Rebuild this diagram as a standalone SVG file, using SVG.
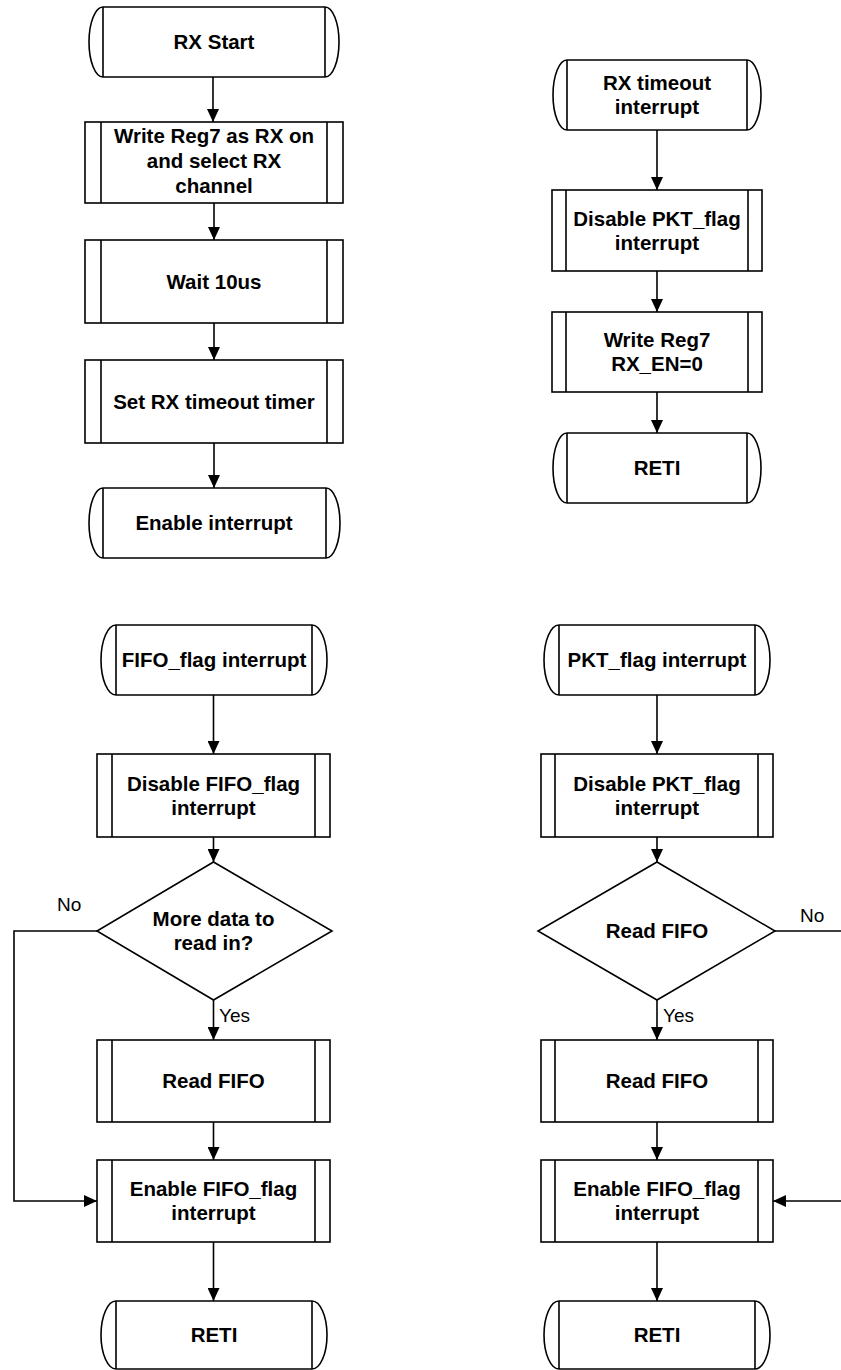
<svg xmlns="http://www.w3.org/2000/svg" width="841" height="1370" viewBox="0 0 841 1370">
<style>
.s{fill:#fff;stroke:#000;stroke-width:1.6}
.l{fill:none;stroke:#000;stroke-width:1.6}
.t{font-family:"Liberation Sans",Arial,sans-serif;font-weight:bold;font-size:20.5px;text-anchor:middle;fill:#000}
.lb{font-family:"Liberation Sans",Arial,sans-serif;font-size:19px;fill:#000}
.c{fill:none;stroke:#000;stroke-width:1.6;marker-end:url(#ah)}
</style>
<defs>
<marker id="ah" markerUnits="userSpaceOnUse" markerWidth="13" markerHeight="12" refX="13" refY="6" orient="auto">
<path d="M0,0 L13,6 L0,12 Z" fill="#000"/>
</marker>
</defs>
<rect width="841" height="1370" fill="#fff"/>

<g id="connectors">
<path class="c" d="M213,77 V122"/>
<path class="c" d="M214,203 V240"/>
<path class="c" d="M214,323 V360"/>
<path class="c" d="M214,443 V488"/>
<path class="c" d="M657,130 V190"/>
<path class="c" d="M657,271 V312"/>
<path class="c" d="M657,392 V433"/>
<path class="c" d="M213.5,695 V754"/>
<path class="c" d="M213.5,837 V862"/>
<path class="c" d="M213.5,1000 V1040"/>
<path class="c" d="M213.5,1122 V1160"/>
<path class="c" d="M213.5,1242 V1301"/>
<path class="c" d="M97,931 H14 V1201 H97"/>
<path class="c" d="M657,695 V754"/>
<path class="c" d="M657,837 V862"/>
<path class="c" d="M657,1000 V1040"/>
<path class="c" d="M657,1122 V1160"/>
<path class="c" d="M657,1242 V1301"/>
<path class="c" d="M775,931 H846 V1201 H773"/>
<text class="lb" x="57" y="911">No</text>
<text class="lb" x="219" y="1022">Yes</text>
<text class="lb" x="800" y="922">No</text>
<text class="lb" x="663" y="1022">Yes</text>
</g>

<g id="rx_start">
<path class="s" d="M103,7 H325 A14,35 0 0 1 325,77 H103 A14,35 0 0 1 103,7 Z"/>
<path class="l" d="M103,7 V77 M325,7 V77"/>
<text class="t" x="214" y="49">RX Start</text>
</g>
<g id="write_reg7_rx_on">
<rect class="s" x="85" y="122" width="258" height="81"/>
<path class="l" d="M101,122 V203 M327,122 V203"/>
<text class="t" x="214" y="143">Write Reg7 as RX on</text>
<text class="t" x="214" y="168">and select RX</text>
<text class="t" x="214" y="193">channel</text>
</g>
<g id="wait_10us">
<rect class="s" x="85" y="240" width="258" height="83"/>
<path class="l" d="M101,240 V323 M327,240 V323"/>
<text class="t" x="214" y="288.5">Wait 10us</text>
</g>
<g id="set_rx_timeout">
<rect class="s" x="85" y="360" width="258" height="83"/>
<path class="l" d="M101,360 V443 M327,360 V443"/>
<text class="t" x="214" y="408.5">Set RX timeout timer</text>
</g>
<g id="enable_interrupt">
<path class="s" d="M103,488 H326 A14,35 0 0 1 326,558 H103 A14,35 0 0 1 103,488 Z"/>
<path class="l" d="M103,488 V558 M326,488 V558"/>
<text class="t" x="214" y="530">Enable interrupt</text>
</g>

<g id="rx_timeout_interrupt">
<path class="s" d="M567,60 H747 A14,35 0 0 1 747,130 H567 A14,35 0 0 1 567,60 Z"/>
<path class="l" d="M567,60 V130 M747,60 V130"/>
<text class="t" x="657" y="90">RX timeout</text>
<text class="t" x="657" y="114">interrupt</text>
</g>
<g id="disable_pkt_flag_1">
<rect class="s" x="552" y="190" width="210" height="81"/>
<path class="l" d="M566,190 V271 M748,190 V271"/>
<text class="t" x="657" y="225.5">Disable PKT_flag</text>
<text class="t" x="657" y="249.5">interrupt</text>
</g>
<g id="write_reg7_rx_en0">
<rect class="s" x="552" y="312" width="210" height="80"/>
<path class="l" d="M566,312 V392 M748,312 V392"/>
<text class="t" x="657" y="347">Write Reg7</text>
<text class="t" x="657" y="371">RX_EN=0</text>
</g>
<g id="reti_1">
<path class="s" d="M567,433 H747 A14,35 0 0 1 747,503 H567 A14,35 0 0 1 567,433 Z"/>
<path class="l" d="M567,433 V503 M747,433 V503"/>
<text class="t" x="657" y="475">RETI</text>
</g>

<g id="fifo_flag_interrupt">
<path class="s" d="M116,625 H312 A15,35 0 0 1 312,695 H116 A15,35 0 0 1 116,625 Z"/>
<path class="l" d="M116,625 V695 M312,625 V695"/>
<text class="t" x="214" y="667">FIFO_flag interrupt</text>
</g>
<g id="disable_fifo_flag">
<rect class="s" x="97" y="754" width="233" height="83"/>
<path class="l" d="M112,754 V837 M315,754 V837"/>
<text class="t" x="213.5" y="790.5">Disable FIFO_flag</text>
<text class="t" x="213.5" y="814.5">interrupt</text>
</g>
<g id="more_data">
<path class="s" d="M213.5,862 L332,931 L213.5,1000 L97,931 Z"/>
<text class="t" x="213.5" y="926">More data to</text>
<text class="t" x="213.5" y="950">read in?</text>
</g>
<g id="read_fifo_1">
<rect class="s" x="97" y="1040" width="233" height="82"/>
<path class="l" d="M112,1040 V1122 M315,1040 V1122"/>
<text class="t" x="213.5" y="1088">Read FIFO</text>
</g>
<g id="enable_fifo_flag_1">
<rect class="s" x="97" y="1160" width="233" height="82"/>
<path class="l" d="M112,1160 V1242 M315,1160 V1242"/>
<text class="t" x="213.5" y="1196">Enable FIFO_flag</text>
<text class="t" x="213.5" y="1220">interrupt</text>
</g>
<g id="reti_2">
<path class="s" d="M116,1301 H312 A15,34 0 0 1 312,1369 H116 A15,34 0 0 1 116,1301 Z"/>
<path class="l" d="M116,1301 V1369 M312,1301 V1369"/>
<text class="t" x="214" y="1342">RETI</text>
</g>

<g id="pkt_flag_interrupt">
<path class="s" d="M559,625 H755 A15,35 0 0 1 755,695 H559 A15,35 0 0 1 559,625 Z"/>
<path class="l" d="M559,625 V695 M755,625 V695"/>
<text class="t" x="657" y="667">PKT_flag interrupt</text>
</g>
<g id="disable_pkt_flag_2">
<rect class="s" x="541" y="754" width="232" height="83"/>
<path class="l" d="M555,754 V837 M758,754 V837"/>
<text class="t" x="657" y="790.5">Disable PKT_flag</text>
<text class="t" x="657" y="814.5">interrupt</text>
</g>
<g id="read_fifo_decision">
<path class="s" d="M657,862 L775,931 L657,1000 L538,931 Z"/>
<text class="t" x="657" y="938">Read FIFO</text>
</g>
<g id="read_fifo_2">
<rect class="s" x="541" y="1040" width="232" height="82"/>
<path class="l" d="M555,1040 V1122 M758,1040 V1122"/>
<text class="t" x="657" y="1088">Read FIFO</text>
</g>
<g id="enable_fifo_flag_2">
<rect class="s" x="541" y="1160" width="232" height="82"/>
<path class="l" d="M555,1160 V1242 M758,1160 V1242"/>
<text class="t" x="657" y="1196">Enable FIFO_flag</text>
<text class="t" x="657" y="1220">interrupt</text>
</g>
<g id="reti_3">
<path class="s" d="M559,1301 H755 A15,34 0 0 1 755,1369 H559 A15,34 0 0 1 559,1301 Z"/>
<path class="l" d="M559,1301 V1369 M755,1301 V1369"/>
<text class="t" x="657" y="1342">RETI</text>
</g>
</svg>
